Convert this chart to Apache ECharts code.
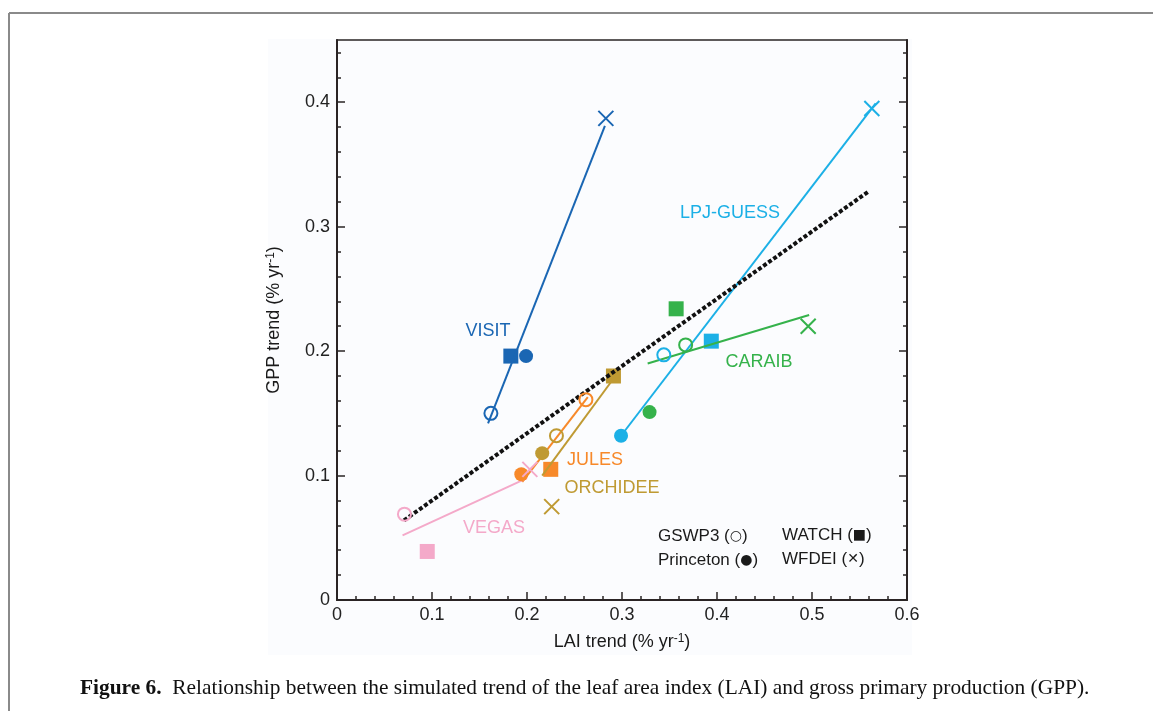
<!DOCTYPE html>
<html>
<head>
<meta charset="utf-8">
<script src="https://cdn.jsdelivr.net/npm/echarts@6/dist/echarts.min.js"></script>
<style>
html,body{margin:0;padding:0;background:#fff;}
#chart{width:1153px;height:711px;}
</style>
</head>
<body>
<div id="chart"></div>
<script>
// ---- data ----
const models = ['VISIT', 'LPJ-GUESS', 'CARAIB', 'JULES', 'ORCHIDEE', 'VEGAS'];
const modelColors = ['#1a66b3', '#1cb0e6', '#35b24b', '#f7892a', '#bf9a33', '#f4a9c9'];
// LAI trend, GPP trend per forcing (null = not visible)
const gswp3 =     [[0.162, 0.150], [0.344, 0.197], [0.367, 0.205], [0.262, 0.161], [0.231, 0.132], [0.071, 0.069]];
const princeton = [[0.199, 0.196], [0.299, 0.132], [0.329, 0.151], [0.194, 0.101], [0.216, 0.118], null];
const watch =     [[0.183, 0.196], [0.394, 0.208], [0.357, 0.234], [0.225, 0.105], [0.291, 0.180], [0.095, 0.039]];
const wfdei =     [[0.283, 0.387], [0.563, 0.395], [0.496, 0.220], null, [0.226, 0.075], [0.203, 0.105]];
// regression line end points per model
const fitLines = [
  [[0.159, 0.142], [0.282, 0.381]],
  [[0.299, 0.132], [0.567, 0.399]],
  [[0.327, 0.190], [0.497, 0.229]],
  [[0.195, 0.095], [0.264, 0.163]],
  [[0.216, 0.100], [0.295, 0.182]],
  [[0.069, 0.052], [0.200, 0.098]]
];
const overallFit = [[0.0705, 0.064], [0.559, 0.328]];
const xTickLabels = [0, 0.1, 0.2, 0.3, 0.4, 0.5, 0.6];
const yMajorTicks = [0, 0.1, 0.2, 0.3, 0.4];
const yMinorTicks = [0.02, 0.04, 0.06, 0.08, 0.12, 0.14, 0.16, 0.18, 0.22, 0.24, 0.26, 0.28, 0.32, 0.34, 0.36, 0.38, 0.42, 0.44];

const chart = echarts.init(document.getElementById('chart'));
const FONT = '"Liberation Sans", Arial, sans-serif';
const AX = '#2a2424';
const crossPath = 'path://M0,0L10,10M10,0L0,10';

const series = [];
models.forEach((m, i) => {
  series.push({
    type: 'line', name: m + ' fit', data: fitLines[i], xAxisIndex: 0, yAxisIndex: 0,
    symbol: 'none', silent: true, z: 3,
    lineStyle: { color: modelColors[i], width: 2 }
  });
});
series.push({
  type: 'line', name: 'all', data: overallFit, symbol: 'none', silent: true, z: 4,
  lineStyle: { color: '#111', width: 4, type: [4, 2.2] }
});
models.forEach((m, i) => {
  const c = modelColors[i];
  if (watch[i]) series.push({ type: 'scatter', data: [watch[i]], symbol: 'rect', symbolSize: 15, z: 2,
    itemStyle: { color: c, opacity: 1 } });
  if (princeton[i]) series.push({ type: 'scatter', data: [princeton[i]], symbol: 'circle', symbolSize: 14, z: 5,
    itemStyle: { color: c, opacity: 1 } });
  if (gswp3[i]) series.push({ type: 'scatter', data: [gswp3[i]], symbol: 'circle', symbolSize: 13, z: 5,
    itemStyle: { color: 'rgba(255,255,255,0)', borderColor: c, borderWidth: 2, opacity: 1 } });
  if (wfdei[i]) series.push({ type: 'scatter', data: [wfdei[i]], symbol: crossPath, symbolSize: 15, z: 5,
    itemStyle: { color: 'rgba(0,0,0,0)', borderColor: c, borderWidth: 2, opacity: 1 } });
});

const labelPos = [[488, 331], [730, 213], [759, 362], [595, 460], [612, 488], [494, 528]];
const graphics = [
  { type: 'rect', z: -10, silent: true, shape: { x: 268, y: 39, width: 644, height: 616 }, style: { fill: '#fbfcfe' } },
  { type: 'line', silent: true, shape: { x1: 9, y1: 13, x2: 1153, y2: 13 }, style: { stroke: '#8a8a8a', lineWidth: 2 } },
  { type: 'line', silent: true, shape: { x1: 9, y1: 13, x2: 9, y2: 711 }, style: { stroke: '#8a8a8a', lineWidth: 2 } }
];
models.forEach((m, i) => {
  graphics.push({ type: 'text', x: labelPos[i][0], y: labelPos[i][1], z: 20, silent: true,
    style: { text: m, fill: modelColors[i], font: '18px ' + FONT, align: 'center', verticalAlign: 'middle' } });
});
const legendItems = [
  ['GSWP3 (', '○', ')', 658, 536],
  ['Princeton (', '●', ')', 658, 560],
  ['WATCH (', '■', ')', 782, 535],
  ['WFDEI (', '✕', ')', 782, 559]
];
legendItems.forEach(l => {
  graphics.push({ type: 'text', x: l[3], y: l[4], z: 20, silent: true,
    style: { text: l[0] + '{s|' + l[1] + '}' + l[2], fill: '#1a1a1a', font: '17px ' + FONT,
      align: 'left', verticalAlign: 'middle',
      rich: { s: { fontSize: 14, fontFamily: 'DejaVu Sans', fill: '#1a1a1a' } } } });
});
graphics.push({ type: 'text', x: 80, y: 688, z: 20, silent: true,
  style: { text: '{b|Figure 6.}  Relationship between the simulated trend of the leaf area index (LAI) and gross primary production (GPP).',
    fill: '#111', font: '21.4px "Liberation Serif", serif', align: 'left', verticalAlign: 'middle',
    rich: { b: { fontWeight: 'bold', fontSize: 21.4, fontFamily: '"Liberation Serif", serif' } } } });

const yBase = { type: 'value', min: 0, max: 0.45, splitLine: { show: false } };
const supRich = { sup: { fontSize: 12, verticalAlign: 'top', fontFamily: FONT, color: '#1a1a1a' } };
chart.setOption({
  backgroundColor: '#fff',
  animation: false,
  grid: { left: 337, top: 40, width: 570, height: 560, show: true, borderColor: AX, borderWidth: 1.5, backgroundColor: 'transparent' },
  xAxis: [{
    type: 'value', min: 0, max: 0.6, interval: 0.1,
    axisLine: { lineStyle: { color: AX, width: 2 } },
    axisTick: { inside: true, length: 8, lineStyle: { color: AX, width: 1.5 } },
    minorTick: { show: true, splitNumber: 5, length: 4, lineStyle: { color: AX, width: 1.5 } },
    splitLine: { show: false }, minorSplitLine: { show: false },
    axisLabel: { fontSize: 18, color: '#222', fontFamily: FONT, margin: 6,
      formatter: v => (xTickLabels.some(t => Math.abs(t - v) < 1e-9) ? (v === 0 ? '0' : v.toFixed(1)) : '') },
    name: 'LAI trend (% yr{sup|-1})', nameLocation: 'middle', nameGap: 33,
    nameTextStyle: { fontSize: 18, color: '#1a1a1a', fontFamily: FONT, rich: supRich }
  }],
  yAxis: [
    Object.assign({}, yBase, {
      position: 'left',
      axisLine: { show: true, lineStyle: { color: AX, width: 2 } },
      axisTick: { inside: true, length: 8, customValues: yMajorTicks, lineStyle: { color: AX, width: 1.5 } },
      axisLabel: { customValues: yMajorTicks, fontSize: 18, color: '#222', fontFamily: FONT, margin: 7,
        formatter: v => (v === 0 ? '0' : v.toFixed(1)) },
      name: 'GPP trend (% yr{sup|-1})', nameLocation: 'middle', nameGap: 54,
      nameTextStyle: { fontSize: 18, color: '#1a1a1a', fontFamily: FONT, rich: supRich }
    }),
    Object.assign({}, yBase, {
      position: 'left', axisLine: { show: false }, axisLabel: { show: false },
      axisTick: { inside: true, length: 4, customValues: yMinorTicks, lineStyle: { color: AX, width: 1.5 } }
    }),
    Object.assign({}, yBase, {
      position: 'right', axisLine: { show: true, lineStyle: { color: AX, width: 2 } }, axisLabel: { show: false },
      axisTick: { inside: true, length: 8, customValues: yMajorTicks, lineStyle: { color: AX, width: 1.5 } }
    }),
    Object.assign({}, yBase, {
      position: 'right', axisLine: { show: false }, axisLabel: { show: false },
      axisTick: { inside: true, length: 4, customValues: yMinorTicks, lineStyle: { color: AX, width: 1.5 } }
    })
  ],
  series: series,
  graphic: graphics
});
</script>
</body>
</html>
